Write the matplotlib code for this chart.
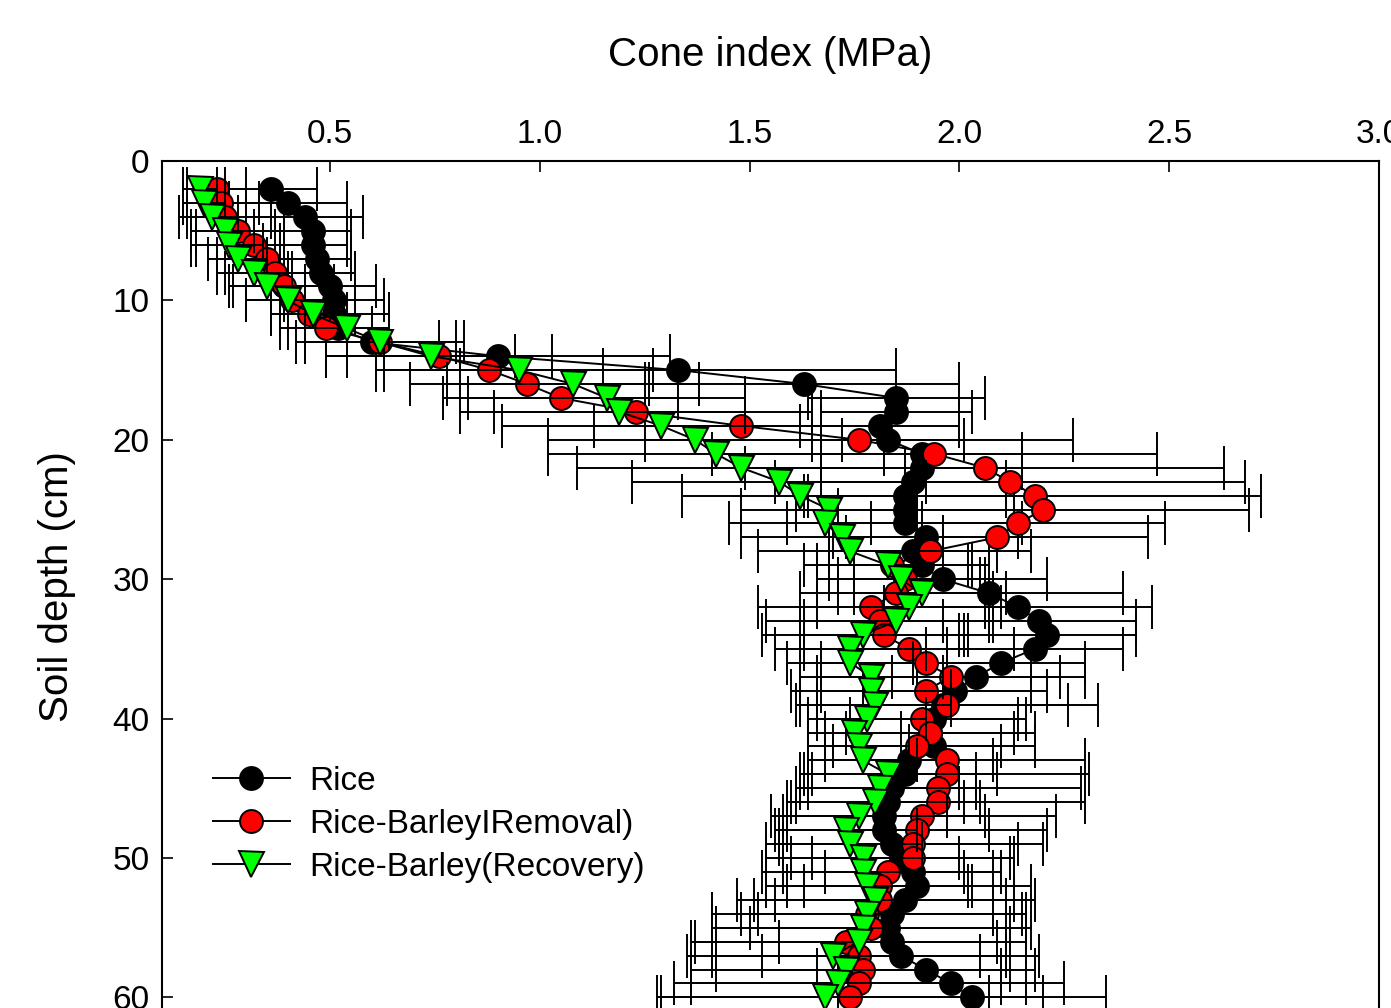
import matplotlib
matplotlib.use('Agg')
import matplotlib.pyplot as plt
from matplotlib.lines import Line2D
import numpy as np

plt.rcParams['font.family'] = ['Liberation Sans', 'DejaVu Sans']

depth = list(range(2, 61))

rice = [0.36, 0.40, 0.44, 0.46, 0.46, 0.47, 0.48, 0.50, 0.51, 0.51,
        0.52, 0.60, 0.90, 1.33, 1.63, 1.85, 1.85, 1.81, 1.83, 1.91,
        1.91, 1.89, 1.87, 1.87, 1.87, 1.92, 1.89, 1.91, 1.96, 2.07,
        2.14, 2.19, 2.21, 2.18, 2.10, 2.04, 1.99, 1.96, 1.94, 1.93,
        1.94, 1.88, 1.87, 1.84, 1.83, 1.82, 1.82, 1.84, 1.86, 1.89,
        1.90, 1.87, 1.84, 1.83, 1.84, 1.86, 1.92, 1.98, 2.03]
rice_sd = [0.11, 0.14, 0.14, 0.09, 0.08, 0.08, 0.08, 0.11, 0.12, 0.13,
           0.12, 0.16, 0.41, 0.52, 0.37, 0.21, 0.18, 0.19, 0.18, 0.24,
           0.24, 0.22, 0.24, 0.26, 0.28, 0.22, 0.20, 0.16, 0.25, 0.32,
           0.32, 0.23, 0.21, 0.21, 0.20, 0.20, 0.22, 0.30, 0.20, 0.25,
           0.24, 0.20, 0.22, 0.20, 0.22, 0.24, 0.25, 0.30, 0.26, 0.21,
           0.27, 0.31, 0.32, 0.33, 0.27, 0.33, 0.26, 0.27, 0.32]

removal = [0.23, 0.24, 0.25, 0.28, 0.32, 0.35, 0.37, 0.39, 0.41, 0.45,
           0.49, 0.62, 0.76, 0.88, 0.97, 1.05, 1.23, 1.48, 1.76, 1.94,
           2.06, 2.12, 2.18, 2.20, 2.14, 2.09, 1.93, 1.84, 1.87, 1.85,
           1.79, 1.81, 1.82, 1.88, 1.92, 1.98, 1.92, 1.97, 1.91, 1.93,
           1.90, 1.97, 1.97, 1.95, 1.95, 1.91, 1.90, 1.89, 1.89, 1.83,
           1.81, 1.81, 1.78, 1.79, 1.73, 1.76, 1.77, 1.76, 1.74]
removal_sd = [0.07, 0.09, 0.11, 0.11, 0.15, 0.12, 0.12, 0.12, 0.11, 0.09,
              0.11, 0.20, 0.27, 0.27, 0.28, 0.28, 0.42, 0.35, 0.51, 0.53,
              0.57, 0.56, 0.54, 0.49, 0.35, 0.36, 0.24, 0.18, 0.18, 0.23,
              0.27, 0.27, 0.20, 0.25, 0.25, 0.32, 0.25, 0.36, 0.25, 0.20,
              0.20, 0.33, 0.34, 0.34, 0.35, 0.32, 0.31, 0.31, 0.24, 0.25,
              0.22, 0.30, 0.37, 0.38, 0.36, 0.35, 0.35, 0.40, 0.46]

recovery = [0.19, 0.20, 0.22, 0.25, 0.26, 0.28, 0.32, 0.35, 0.40, 0.46,
            0.54, 0.62, 0.74, 0.95, 1.08, 1.16, 1.19, 1.29, 1.37, 1.42,
            1.48, 1.57, 1.62, 1.69, 1.68, 1.72, 1.74, 1.83, 1.86, 1.91,
            1.88, 1.85, 1.77, 1.74, 1.74, 1.79, 1.79, 1.80, 1.78, 1.75,
            1.76, 1.77, 1.83, 1.81, 1.80, 1.76, 1.73, 1.74, 1.77, 1.77,
            1.78, 1.80, 1.78, 1.77, 1.76, 1.70, 1.73, 1.71, 1.68]
recovery_sd = [0.04, 0.05, 0.06, 0.07, 0.08, 0.07, 0.09, 0.09, 0.10, 0.10,
               0.10, 0.18, 0.20, 0.32, 0.30, 0.33, 0.30, 0.38, 0.35, 0.40,
               0.39, 0.35, 0.28, 0.21, 0.23, 0.24, 0.22, 0.20, 0.20, 0.20,
               0.22, 0.22, 0.24, 0.18, 0.15, 0.17, 0.19, 0.18, 0.14, 0.11,
               0.12, 0.13, 0.21, 0.19, 0.21, 0.21, 0.17, 0.17, 0.23, 0.24,
               0.24, 0.33, 0.30, 0.35, 0.40, 0.35, 0.37, 0.39, 0.39]

labels = ['Rice', 'Rice-BarleyIRemoval)', 'Rice-Barley(Recovery)']
colors = ['black', 'red', '#00ff00']
markers = ['o', 'o', 'v']
sizes = [16.5, 16.5, 18]

W, H = 1391, 1008
fig = plt.figure(figsize=(W / 100, H / 100), dpi=100)
# axes box in pixels: left 162, right 1379, top 161, y scale 13.94 px/cm
ymax = 61
ax_h = ymax * 13.94
ax = fig.add_axes([162 / W, (H - 161 - ax_h) / H, (1379 - 162) / W, ax_h / H])

series = [(rice, rice_sd), (removal, removal_sd), (recovery, recovery_sd)]
z = 2
for (vals, sd), c, m, ms in zip(series, colors, markers, sizes):
    ax.errorbar(vals, depth, xerr=sd, fmt='none', ecolor='black',
                elinewidth=1.4, capsize=16, capthick=1.4, zorder=z)
    ax.plot(vals, depth, color='black', lw=1.4, marker=m, ms=ms,
            mfc=c, mec='black', mew=1.4, zorder=z + 1)
    z += 2

ax.set_xlim(0.1, 3.0)
ax.set_ylim(ymax, 0)
ax.xaxis.tick_top()
ax.xaxis.set_label_position('top')
ax.set_xticks([0.5, 1.0, 1.5, 2.0, 2.5, 3.0])
ax.set_xticklabels(['0.5', '1.0', '1.5', '2.0', '2.5', '3.0'])
ax.set_yticks(range(0, 61, 10))
ax.tick_params(axis='both', direction='in', length=8, width=1.2,
               labelsize=24, colors='black')
ax.tick_params(axis='x', pad=8)
ax.tick_params(axis='y', pad=9)
for s in ax.spines.values():
    s.set_linewidth(1.5)

ax.set_xlabel('Cone index (MPa)', fontsize=29, labelpad=38)
ax.set_ylabel('Soil depth (cm)', fontsize=29, labelpad=26)

handles = [Line2D([], [], color='black', lw=1.4, marker=m, ms=ms,
                  mfc=c, mec='black', mew=1.4)
           for c, m, ms in zip(colors, markers, sizes)]
ax.legend(handles, labels, loc='upper left',
          bbox_to_anchor=(213 / W, (H - 766) / H), bbox_transform=fig.transFigure,
          frameon=False, fontsize=24, handlelength=2.3, handletextpad=0.6,
          labelspacing=0.36, borderaxespad=0, borderpad=0, numpoints=1)

fig.savefig('out.png', dpi=100)
